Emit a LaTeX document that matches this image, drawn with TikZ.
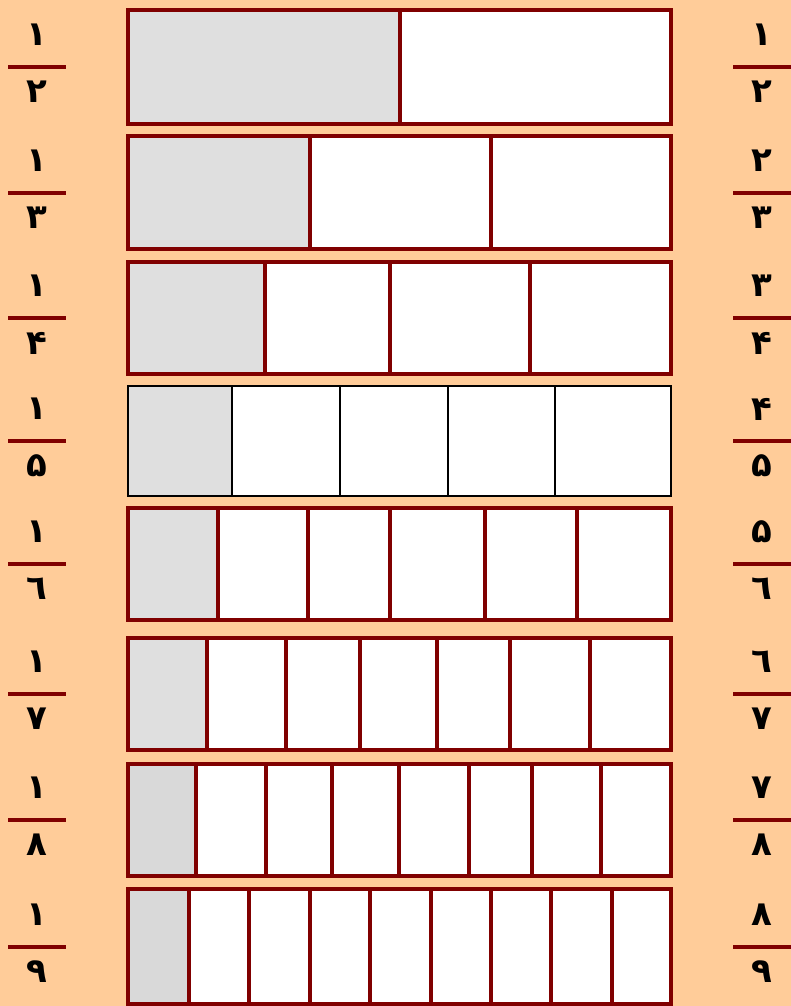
\documentclass[tikz,border=0pt]{standalone}
\usepackage{fontspec}
\newfontfamily\arabicfont[Script=Arabic]{DejaVu Sans}
\definecolor{peach}{HTML}{FFCC99}
\definecolor{maroonline}{HTML}{800000}
\definecolor{cellgray}{HTML}{DFDFDF}
\definecolor{cellgraydk}{HTML}{D9D9D9}
\begin{document}
\begin{tikzpicture}[x=1pt,y=-1pt,
  fracline/.style={draw=maroonline,line width=4pt},
  digit/.style={font=\arabicfont\bfseries\fontsize{34}{34}\selectfont, inner sep=0pt, text=black}]
\fill[peach] (0,0) rectangle (791,1006);
\useasboundingbox (0,0) rectangle (791,1006);
\foreach \n/\t/\b/\f/\d/\g/\c/\w/\ld/\rn in {
  1/10/124/400/{400}/cellgray/maroonline/4/٢/١,
  2/136/249/309.5/{309.5,490.5}/cellgray/maroonline/4/٣/٢,
  3/262/374/264.5/{264.5,389.5,529.5}/cellgray/maroonline/4/۴/٣,
  4/386/496/231.5/{231.5,340,447.5,554.5}/cellgray/black/2/۵/۴,
  5/508/620/218/{218,308,390,485,577}/cellgray/maroonline/4/٦/۵,
  6/638/750/206.5/{206.5,285.5,360,437,510,590}/cellgray/maroonline/4/٧/٦,
  7/764/876/196/{196,266,332,399,469,532,601}/cellgraydk/maroonline/4/٨/٧,
  8/889/1004/189/{189,249,309.5,370,430.5,491,551,612}/cellgraydk/maroonline/4/٩/٨}
{
  \fill[\g] (128,\t) rectangle (\f,\b);
  \fill[white] (\f,\t) rectangle (671,\b);
  \draw[draw=\c,line width=\w pt] (128,\t) rectangle (671,\b);
  \foreach \x in \d {\draw[draw=\c,line width=\w pt] (\x,\t) -- (\x,\b);}
  \pgfmathsetmacro{\m}{(\t+\b)/2}
  \coordinate (lf\n a) at (8,\m);
  \coordinate (lf\n b) at (66,\m);
  \coordinate (rf\n a) at (733,\m);
  \coordinate (rf\n b) at (791,\m);
  \draw[fracline] (lf\n a) -- (lf\n b);
  \draw[fracline] (rf\n a) -- (rf\n b);
  \node[digit] (ln\n) at (37,\m-32) {١};
  \node[digit] (ld\n) at (37,\m+25) {\ld};
  \node[digit] (rn\n) at (762,\m-32) {\rn};
  \node[digit] (rd\n) at (762,\m+25) {\ld};
}
\end{tikzpicture}
\end{document}
